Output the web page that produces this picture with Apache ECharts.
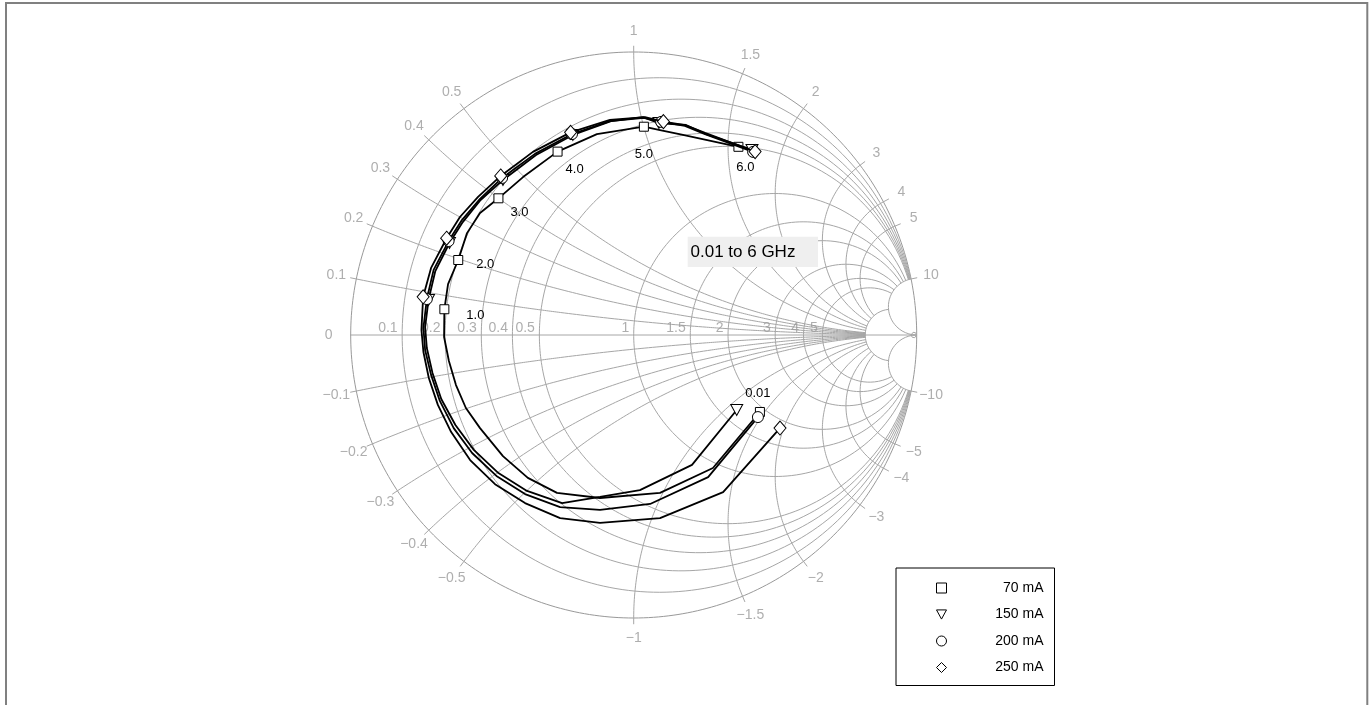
<!DOCTYPE html>
<html><head><meta charset="utf-8">
<script src="https://cdn.jsdelivr.net/npm/echarts@6/dist/echarts.min.js"></script>
<style>html,body{margin:0;padding:0;background:#fff}#c{width:1370px;height:705px}</style>
</head><body><div id="c"></div>
<script>
// ---------- DATA (reflection coefficient, [Re, Im]) ----------
const seriesNames = ['70 mA', '150 mA', '200 mA', '250 mA'];
const freqLabels = ['0.01', '1.0', '2.0', '3.0', '4.0', '5.0', '6.0'];

const s70 = [
  [0.446,-0.272],[0.280,-0.470],[0.093,-0.558],[-0.119,-0.576],[-0.271,-0.558],[-0.374,-0.505],
  [-0.462,-0.428],[-0.543,-0.329],[-0.593,-0.258],[-0.628,-0.177],[-0.653,-0.092],[-0.670,-0.007],
  [-0.669,0.091],[-0.656,0.180],[-0.620,0.265],[-0.589,0.360],[-0.543,0.431],[-0.478,0.483],
  [-0.391,0.558],[-0.269,0.648],[-0.130,0.710],[0.036,0.736],[0.093,0.724],[0.174,0.707],[0.370,0.665]
];
const marks70 = [0, 12, 14, 17, 19, 21, 24];

const s150 = [
  [0.364,-0.265],[0.206,-0.459],[0.022,-0.548],[-0.119,-0.572],[-0.253,-0.594],[-0.377,-0.551],
  [-0.478,-0.488],[-0.565,-0.406],[-0.630,-0.318],[-0.680,-0.226],[-0.711,-0.134],[-0.731,-0.046],
  [-0.737,0.028],[-0.725,0.124],[-0.701,0.226],[-0.651,0.325],[-0.604,0.399],[-0.541,0.477],
  [-0.462,0.548],[-0.345,0.636],[-0.215,0.707],[-0.080,0.756],[0.033,0.770],[0.089,0.749],
  [0.185,0.742],[0.256,0.710],[0.418,0.654]
];
const s200 = [
  [0.439,-0.290],[0.263,-0.502],[0.058,-0.597],[-0.119,-0.618],[-0.260,-0.608],[-0.384,-0.562],
  [-0.485,-0.498],[-0.571,-0.417],[-0.636,-0.329],[-0.685,-0.233],[-0.716,-0.141],[-0.737,-0.053],
  [-0.743,0.025],[-0.731,0.127],[-0.707,0.230],[-0.654,0.332],[-0.607,0.406],[-0.543,0.481],
  [-0.465,0.555],[-0.349,0.640],[-0.218,0.710],[-0.084,0.756],[0.036,0.767],[0.097,0.753],
  [0.181,0.739],[0.252,0.710],[0.422,0.647]
];
const s250 = [
  [0.517,-0.329],[0.316,-0.555],[0.093,-0.647],[-0.119,-0.664],[-0.260,-0.647],[-0.384,-0.594],
  [-0.490,-0.527],[-0.578,-0.442],[-0.645,-0.343],[-0.692,-0.247],[-0.724,-0.152],[-0.743,-0.060],
  [-0.750,0.018],[-0.744,0.135],[-0.716,0.237],[-0.661,0.342],[-0.614,0.417],[-0.550,0.488],
  [-0.470,0.562],[-0.356,0.647],[-0.223,0.716],[-0.084,0.760],[0.040,0.770],[0.105,0.754],
  [0.181,0.742],[0.252,0.714],[0.429,0.648]
];
const marksHi = [0, 13, 15, 18, 20, 23, 26];

// Smith grid values and tick labels
const resistanceCircles = [0.1, 0.2, 0.3, 0.4, 0.5, 1, 1.5, 2, 3, 4, 5, 10];
const resistanceLabels = [0.1, 0.2, 0.3, 0.4, 0.5, 1, 1.5, 2, 3, 4, 5];
const reactanceArcs = [0.1, 0.2, 0.3, 0.4, 0.5, 1, 1.5, 2, 3, 4, 5, 10];
const annotationText = '0.01 to 6 GHz';

// ---------- helpers ----------
const FONT = '"Liberation Sans", Arial, Helvetica, sans-serif';
const GRID = '#a6a6a6';
const LABEL = '#9a9a9a';
function gam(r, x) { const d = (r + 1) * (r + 1) + x * x; return [(r * r - 1 + x * x) / d, 2 * x / d]; }
function fmt(v) { return (v < 0 ? '\u2212' : '') + String(Math.abs(v)); }

const series = [];
function addCurve(pts, color, width) {
  series.push({ type: 'line', data: pts, symbol: 'none', silent: true, clip: false, z: 1,
    lineStyle: { color: color, width: width }, emphasis: { disabled: true }, tooltip: { show: false } });
}
// outer circle
{ const pts = []; for (let i = 0; i <= 360; i++) { const a = i * Math.PI / 180; pts.push([Math.cos(a), Math.sin(a)]); } addCurve(pts, '#999999', 1); }
// real axis (extends slightly past the rim on the left)
addCurve([[-1.025, 0], [1, 0]], GRID, 1);
// resistance circles, limited to |x| <= 10
resistanceCircles.forEach(r => {
  const pts = []; const lim = Math.atan(10);
  for (let i = 0; i <= 240; i++) { const f = -lim + 2 * lim * i / 240; pts.push(gam(r, Math.tan(f))); }
  addCurve(pts, GRID, 1);
});
// tiny circle at the open-circuit point
{ const pts = []; for (let i = 0; i <= 60; i++) { const a = i * Math.PI / 30; pts.push([100 / 101 + Math.cos(a) / 101, Math.sin(a) / 101]); } addCurve(pts, GRID, 1); }
// reactance arcs, limited to r <= 10 (the +-10 arcs run to the edge)
reactanceArcs.forEach(x => [1, -1].forEach(s => {
  const full = x >= 10; const lim = full ? Math.PI / 2 : Math.atan(10); const pts = [];
  for (let i = 0; i <= 220; i++) { const f = lim * i / 220; if (full && i === 220) pts.push([1, 0]); else pts.push(gam(Math.tan(f), s * x)); }
  addCurve(pts, GRID, 1);
}));
// rim ticks and reactance labels
const rimVals = [0].concat(reactanceArcs, reactanceArcs.map(v => -v));
rimVals.forEach(x => {
  const a = Math.PI - 2 * Math.atan(x);
  addCurve([[Math.cos(a), Math.sin(a)], [1.022 * Math.cos(a), 1.022 * Math.sin(a)]], GRID, 1);
});
series.push({ type: 'scatter', silent: true, clip: false, z: 2, symbolSize: 1, itemStyle: { color: 'transparent' },
  data: rimVals.map(x => { const a = Math.PI - 2 * Math.atan(x); const k = x === 0 ? 1.078 : 1.072; return { value: [k * Math.cos(a), k * Math.sin(a)], name: fmt(x) }; }),
  label: { show: true, position: 'inside', formatter: p => p.name, color: LABEL, fontSize: 14, fontFamily: FONT },
  emphasis: { disabled: true }, tooltip: { show: false } });
series.push({ type: 'scatter', silent: true, clip: false, z: 2, symbolSize: 1, itemStyle: { color: 'transparent' },
  data: resistanceLabels.map(r => ({ value: [(r - 1) / (r + 1), 0], name: fmt(r) })),
  label: { show: true, position: [-4, 1], align: 'right', verticalAlign: 'bottom', formatter: p => p.name, color: LABEL, fontSize: 14, fontFamily: FONT },
  emphasis: { disabled: true }, tooltip: { show: false } });

// ---------- measured data series ----------
const labelOffsets = [[-2, -19], [31, 6], [27, 4], [21, 14], [17, 18], [0, 28], [7, 21]];
function build(pts, marks, labels) {
  return pts.map((p, i) => {
    const k = marks.indexOf(i);
    if (k < 0) return { value: p, symbol: 'none' };
    const item = { value: p };
    if (labels) item.label = { show: true, formatter: labels[k], offset: labelOffsets[k] };
    return item;
  });
}
const triDown = 'path://M0,0L12,0L6,11Z';
const styles = [
  { symbol: 'rect', size: 9 },
  { symbol: triDown, size: [12, 11] },
  { symbol: 'circle', size: 11 },
  { symbol: 'diamond', size: [12, 14] }
];
[[s70, marks70, freqLabels], [s150, marksHi], [s200, marksHi], [s250, marksHi]].forEach((d, si) => {
  series.push({
    name: seriesNames[si], type: 'line', data: build(d[0], d[1], d[2]), clip: false, z: 5 + si,
    symbol: styles[si].symbol, symbolSize: styles[si].size, showAllSymbol: true,
    lineStyle: { color: '#000', width: 1.8 },
    itemStyle: { color: '#fff', borderColor: '#000', borderWidth: 1 },
    label: { show: false, position: 'inside', color: '#000', fontSize: 13, fontFamily: FONT },
    emphasis: { disabled: true }
  });
});

const chart = echarts.init(document.getElementById('c'), null, { renderer: 'canvas' });
chart.setOption({
  animation: false,
  backgroundColor: '#fff',
  textStyle: { fontFamily: FONT },
  grid: { left: 350.7, top: 52, width: 566, height: 566 },
  xAxis: { type: 'value', min: -1, max: 1, show: false },
  yAxis: { type: 'value', min: -1, max: 1, show: false },
  legend: {
    orient: 'vertical', left: 896, top: 568, padding: [13, 11, 11, 40], itemGap: 12.5,
    itemWidth: 10, itemHeight: 10, borderColor: '#000', borderWidth: 1, backgroundColor: '#fff',
    selectedMode: false,
    data: [
      { name: seriesNames[0], icon: 'rect', itemStyle: { color: '#fff', borderColor: '#000', borderWidth: 1 } },
      { name: seriesNames[1], icon: triDown, itemStyle: { color: '#fff', borderColor: '#000', borderWidth: 1 } },
      { name: seriesNames[2], icon: 'circle', itemStyle: { color: '#fff', borderColor: '#000', borderWidth: 1 } },
      { name: seriesNames[3], icon: 'diamond', itemStyle: { color: '#fff', borderColor: '#000', borderWidth: 1 } }
    ],
    formatter: n => '{t|' + n + '}',
    textStyle: { rich: { t: { width: 92, align: 'right', fontSize: 14, lineHeight: 16, color: '#000', fontFamily: FONT } } }
  },
  graphic: [
    { type: 'rect', silent: true, z: 0, shape: { x: 6, y: 3, width: 1361.3, height: 730 }, style: { fill: 'none', stroke: '#808080', lineWidth: 2 } },
    { type: 'rect', silent: true, z: 10, shape: { x: 687.7, y: 236.7, width: 130.3, height: 30.3 }, style: { fill: '#efefef' } },
    { type: 'text', silent: true, z: 11, x: 690.5, y: 252, style: { text: annotationText, fill: '#000', font: '17px ' + FONT, textVerticalAlign: 'middle', verticalAlign: 'middle' } }
  ],
  series: series
});
</script></body></html>
